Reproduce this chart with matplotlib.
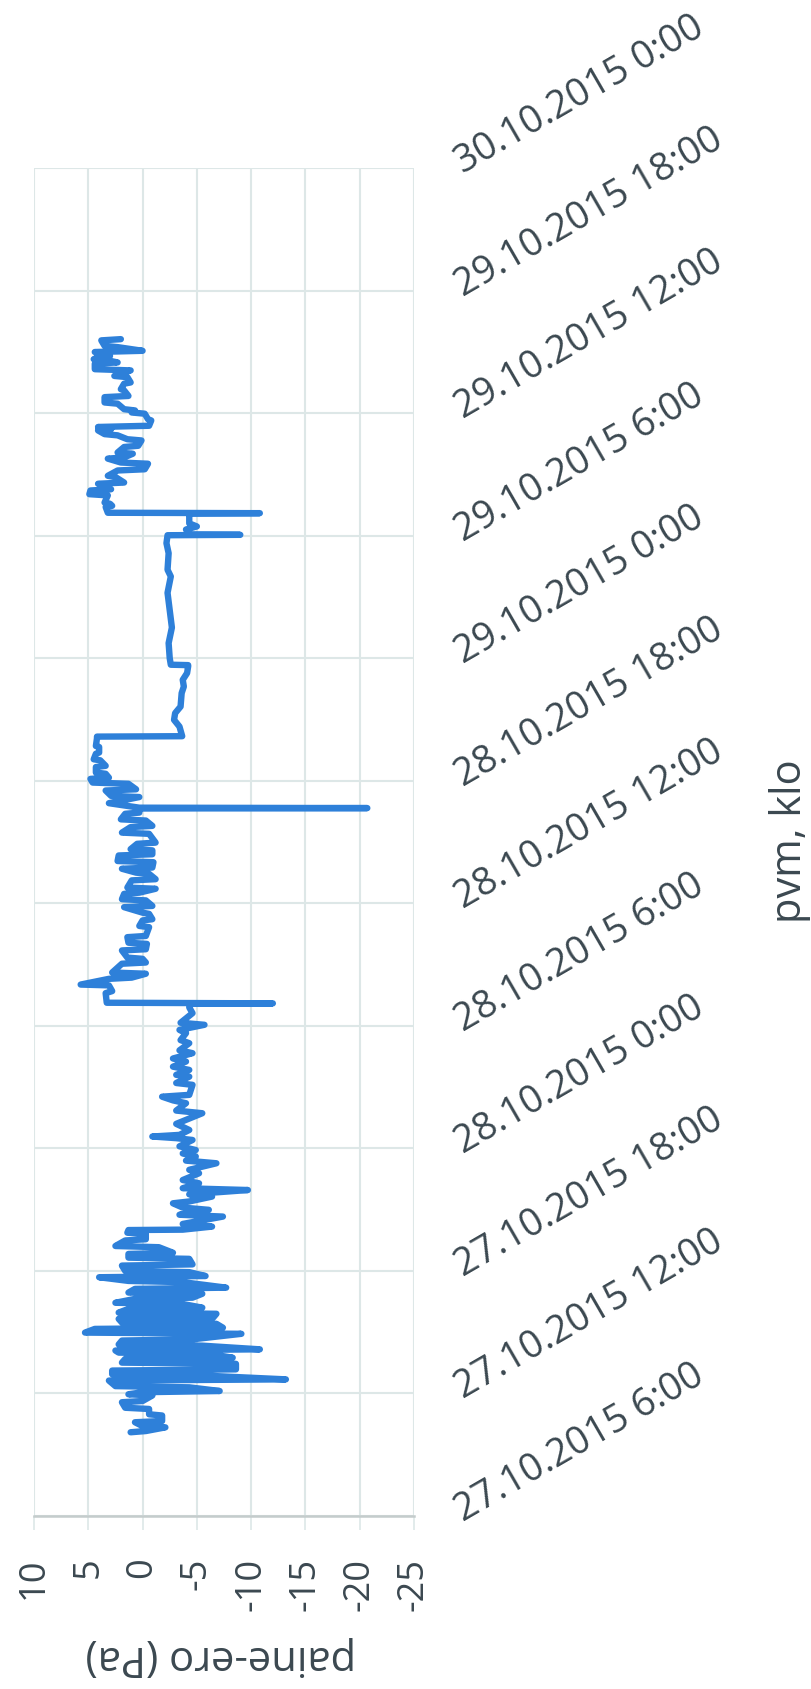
import matplotlib
matplotlib.use("Agg")
import matplotlib.pyplot as plt
from matplotlib.transforms import ScaledTranslation

# Pressure difference logger, hours counted from 27.10.2015 0:00
hours = [
    10.10, 10.16, 10.34, 10.40, 10.59, 10.65, 10.92, 10.98, 11.24, 11.30,
    11.57, 11.63, 11.90, 11.96, 12.06, 12.12, 12.30, 12.36, 12.63, 12.69,
    12.88, 12.94, 13.12, 13.18, 13.45, 13.51, 13.69, 13.75, 13.94, 14.00,
    14.10, 14.16, 14.34, 14.40, 14.59, 14.65, 14.92, 14.98, 15.16, 15.22,
    15.41, 15.47, 15.65, 15.71, 15.90, 15.96, 16.14, 16.20, 16.38, 16.44,
    16.63, 16.69, 16.88, 16.94, 17.12, 17.18, 17.45, 17.51, 17.69, 17.75,
    17.94, 18.00, 18.26, 18.32, 18.59, 18.65, 18.83, 18.89, 19.16, 19.22,
    19.49, 19.55, 19.81, 19.87, 20.00, 20.02,
    20.17, 20.30, 20.66, 20.75, 20.99, 21.10, 21.31, 21.40, 21.64, 21.75,
    21.96, 22.05, 22.29, 22.45, 22.78, 22.95, 23.27, 23.40, 23.60, 23.75,
    23.92, 24.10, 24.41, 24.50, 24.58, 24.66, 24.90, 25.20, 25.72, 25.85,
    26.21, 26.35, 26.53, 26.62, 27.11, 27.20, 27.51, 27.60, 27.84, 28.00,
    28.25, 28.40, 28.66, 28.80, 29.15, 29.30, 29.64, 29.80, 30.05, 30.15,
    30.62, 30.90, 31.08, 31.10, 31.13,
    31.60, 31.70, 31.98, 32.02, 32.30, 32.36, 32.55, 32.61, 33.04, 33.10,
    33.28, 33.34, 33.69, 33.75, 34.01, 34.07, 34.34, 34.40, 34.83, 34.89,
    35.16, 35.22, 35.48, 35.54, 35.81, 35.87, 36.14, 36.20, 36.46, 36.52,
    36.71, 36.77, 37.12, 37.18, 37.44, 37.50, 37.69, 37.75, 38.01, 38.07,
    38.34, 38.40, 38.59, 38.65, 38.91, 38.97, 39.40, 39.46, 39.73, 39.79,
    40.05, 40.11, 40.38, 40.44, 40.64, 40.66, 40.68, 40.90, 41.20, 41.26,
    41.52, 41.58, 41.85, 41.91, 42.09, 42.15, 42.34, 42.40, 42.67, 42.73,
    43.00, 43.05, 43.32, 43.38, 43.65, 43.70, 44.08, 44.16, 44.18,
    44.65, 44.98, 45.31, 45.63, 46.29, 46.61, 46.94, 47.27, 47.60, 47.66,
    47.68, 48.00, 48.74, 49.50, 50.37, 51.20, 52.00, 52.33, 53.14, 53.63,
    54.02, 54.04, 54.06, 54.30, 54.45, 54.60, 55.08, 55.10, 55.12,
    55.40, 55.46, 55.56, 55.62, 55.97, 56.03, 56.21, 56.27, 56.54, 56.60,
    56.87, 56.93, 57.19, 57.25, 57.52, 57.58, 57.77, 57.83, 58.01, 58.07,
    58.34, 58.40, 58.66, 58.72, 58.91, 58.97, 59.15, 59.21, 59.32, 59.38,
    59.64, 59.70, 59.97, 60.03, 60.13, 60.19, 60.46, 60.52, 60.78, 60.84,
    61.11, 61.17, 61.44, 61.50, 61.76, 61.82, 62.09, 62.15, 62.42, 62.48,
    62.58, 62.64, 62.74, 62.80, 62.99, 63.05, 63.23, 63.29, 63.56, 63.62,
]

pressure = [
    1.1, -0.3, -2.1, 0.0, 0.7, -1.8, -1.8, -0.6, -0.6, 1.6,
    1.9, 0.0, -0.9, 1.3, 0.0, -7.1, -4.3, 2.5, 3.1, -13.2,
    -5.5, 2.8, 2.8, -8.6, -8.6, 1.9, 1.6, -8.3, -6.1, 2.2,
    2.5, -10.8, -5.5, 2.2, 1.9, -4.6, -9.1, 5.3, 4.4, -7.4,
    -6.8, 1.9, 2.2, -6.5, -6.8, 2.2, 1.3, -5.5, -3.7, 2.5,
    0.7, -4.6, -5.5, 1.3, 0.7, -7.7, -3.7, 1.3, 4.0, -5.8,
    -4.3, 1.6, 1.9, -4.6, -4.3, 1.3, 1.3, -2.8, -1.5, 2.5,
    1.6, -0.3, -0.3, 1.4, 1.3, -3.7,
    -6.4, -3.7, -7.4, -3.4, -6.1, -3.7, -2.8, -4.3, -6.4, -4.3,
    -9.7, -3.7, -5.2, -3.7, -5.2, -4.3, -6.8, -4.0, -4.9, -3.7,
    -4.9, -3.4, -4.6, -3.1, -0.9, -3.4, -4.3, -3.1, -5.5, -3.1,
    -4.0, -2.8, -1.8, -4.3, -4.6, -3.1, -4.3, -3.1, -4.3, -2.8,
    -4.0, -2.8, -4.6, -3.4, -4.3, -3.5, -4.0, -3.4, -5.7, -3.5,
    -4.6, -4.3, -4.5, -12.0, 3.3,
    3.4, 2.8, 3.1, 5.7, 3.1, 1.0, -0.3, 2.8, 1.9, -0.3,
    0.0, 1.4, 1.9, -0.3, -0.4, 1.3, 1.4, -0.3, -0.6, 0.3,
    0.0, -0.9, -0.6, 0.0, 1.7, -0.9, -0.3, 1.9, 1.7, 0.3,
    -1.2, 1.4, 1.0, -1.2, -0.6, 0.6, 1.9, -0.9, -1.0, 2.3,
    2.2, -0.9, -0.9, 1.1, 0.5, -1.2, -0.6, 1.9, 1.1, -0.9,
    -0.3, 2.0, 1.6, 0.3, 0.3, -20.7, 0.3, 3.1, 0.3, 2.9,
    3.4, 0.6, 1.3, 4.6, 4.8, 3.1, 3.4, 4.3, 4.3, 3.4,
    3.9, 4.5, 4.3, 4.0, 4.0, 4.3, 4.2, 4.2, -3.65,
    -3.4, -2.9, -3.0, -3.5, -3.6, -3.8, -3.7, -4.1, -4.2, -4.2,
    -2.6, -2.5, -2.4, -2.7, -2.5, -2.3, -2.6, -2.3, -2.4, -2.2,
    -2.3, -9.0, -4.3, -4.0, -5.0, -4.3, -4.3, -10.8, 3.2,
    3.4, 2.8, 3.0, 3.5, 3.2, 4.9, 4.8, 2.9, 4.1, 1.7,
    2.5, 3.2, 2.3, -0.2, -0.5, 2.0, 3.2, 1.7, 0.9, 2.3,
    1.7, 0.4, 0.1, 1.4, 2.3, 3.5, 4.1, 2.9, 4.1, -0.6,
    -0.8, -0.5, -0.2, 1.0, 0.7, 1.7, 2.3, 3.5, 3.5, 1.3,
    1.7, 2.0, 1.7, 1.1, 1.4, 2.6, 1.1, 4.4, 4.4, 2.3,
    3.2, 4.5, 4.1, 3.0, 4.4, 0.0, 2.3, 3.5, 3.8, 2.0,
]

pressure_ticks = [10, 5, 0, -5, -10, -15, -20, -25]
pressure_labels = ["10", "5", "0", "-5", "-10", "-15", "-20", "-25"]
time_ticks = [6, 12, 18, 24, 30, 36, 42, 48, 54, 60, 66, 72]
time_labels = [
    "27.10.2015 6:00", "27.10.2015 12:00", "27.10.2015 18:00",
    "28.10.2015 0:00", "28.10.2015 6:00", "28.10.2015 12:00",
    "28.10.2015 18:00", "29.10.2015 0:00", "29.10.2015 6:00",
    "29.10.2015 12:00", "29.10.2015 18:00", "30.10.2015 0:00",
]

plt.rcParams['font.family'] = ['Open Sans', 'DejaVu Sans']
text_color = '#3b4850'
grid_color = '#dde7e7'

W, H = 811, 1689
fig = plt.figure(figsize=(W / 100, H / 100), dpi=100)
left, right, top, bottom = 34, 414, 168, 1516
ax = fig.add_axes([left / W, 1 - bottom / H, (right - left) / W, (bottom - top) / H])

ax.plot(pressure, hours, color='#2e80d9', lw=4.6,
        solid_joinstyle='round', solid_capstyle='round', zorder=3)

ax.set_xlim(10, -25)
ax.set_ylim(6, 72)
ax.set_xticks(pressure_ticks)
ax.set_xticklabels(pressure_labels, rotation=90)
ax.set_yticks(time_ticks)
ax.set_yticklabels(time_labels)

ax.grid(True, color=grid_color, lw=1.5, zorder=0)
for side in ['top', 'left', 'right']:
    ax.spines[side].set_visible(False)
ax.spines['bottom'].set_color('#c4cccc')
ax.spines['bottom'].set_linewidth(1.8)

ax.tick_params(axis='x', length=10, width=1.2, color=grid_color, pad=20,
               labelsize=26, labelcolor=text_color)
ax.tick_params(axis='y', left=False, right=False, labelleft=False,
               labelright=True, pad=32, labelsize=27.5, labelcolor=text_color)

shift = ScaledTranslation(0, -0.06, fig.dpi_scale_trans)
for tick in ax.yaxis.get_major_ticks():
    lab = tick.label2
    lab.set_rotation(30)
    lab.set_rotation_mode('anchor')
    lab.set_ha('left')
    lab.set_va('baseline')
    lab.set_transform(lab.get_transform() + shift)

ax.set_xlabel('paine-ero (Pa)', rotation=180, fontsize=30, color=text_color,
              va='center', ha='center')
ax.xaxis.set_label_coords((221 - left) / (right - left), (bottom - 1657) / (bottom - top))
ax.yaxis.set_label_position('right')
ax.set_ylabel('pvm, klo', rotation=90, fontsize=30, color=text_color,
              va='center', ha='center')
ax.yaxis.set_label_coords((790 - left) / (right - left), (bottom - 841) / (bottom - top))

fig.savefig('out.png', dpi=100, facecolor='white')
